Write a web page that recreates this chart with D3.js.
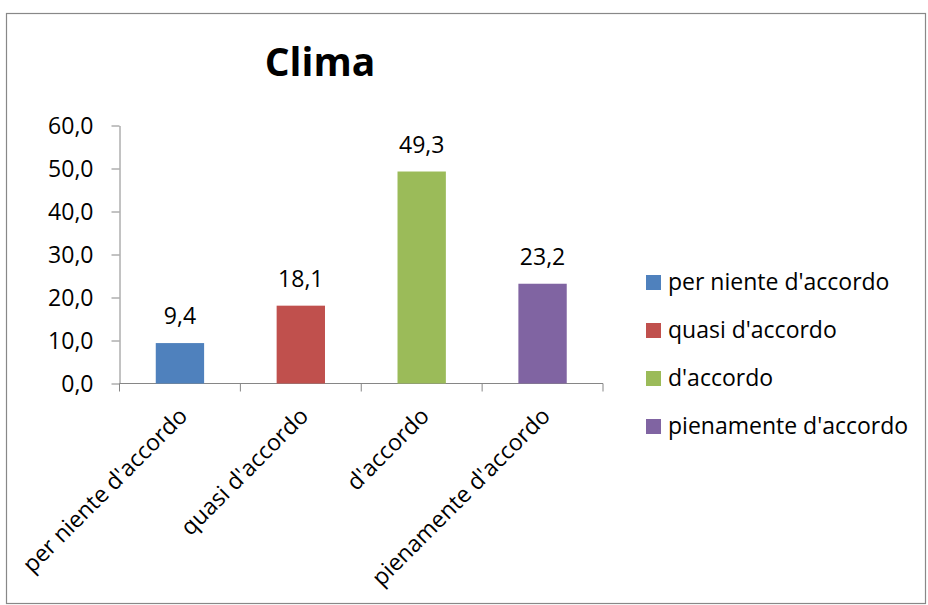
<!DOCTYPE html>
<html><head><meta charset="utf-8">
<script src="https://cdn.jsdelivr.net/npm/d3@7"></script>
<style>body{margin:0;background:#fff}</style>
</head><body>
<svg id="c" width="928" height="605"></svg>
<script>
const categories = ["per niente d'accordo","quasi d'accordo","d'accordo","pienamente d'accordo"];
const values = [9.4, 18.1, 49.3, 23.2];
const colors = ["#4F81BD","#C0504D","#9BBB59","#8064A2"];
const yTicks = [0,10,20,30,40,50,60];
const title = "Clima";

const svg = d3.select("#c");
const font = "'Open Sans', sans-serif";
const fs = 23;
const fmt = v => d3.format(".1f")(v).replace(".", ",");

svg.append("rect").attr("x",6.5).attr("y",13.5).attr("width",919).attr("height",590)
  .attr("fill","#fff").attr("stroke","#888").attr("stroke-width",1.2);

svg.append("text").attr("x",320).attr("y",76).attr("text-anchor","middle")
  .attr("font-family",font).attr("font-weight","bold").attr("font-size",39)
  .text(title);

const x = d3.scaleBand().domain(categories).range([119.5,603]).paddingInner(0.6).paddingOuter(0.3);
const xb = d3.scaleBand().domain(categories).range([119.5,603]);
const y = d3.scaleLinear().domain([0,60]).range([383.5,125.5]);

const axisColor = "#868686";
// y axis
const ya = svg.append("g").attr("transform","translate(119.5,0)")
  .call(d3.axisLeft(y).tickValues(yTicks).tickSize(8).tickSizeOuter(0).tickFormat(fmt));
ya.select(".domain").attr("stroke",axisColor);
ya.selectAll(".tick line").attr("stroke",axisColor);
ya.selectAll(".tick text").attr("font-family",font).attr("font-size",fs).attr("fill","#000")
  .attr("x",-26).attr("dy","0.36em");

// x axis
const xg = svg.append("g").attr("transform","translate(0,383.5)");
xg.append("line").attr("x1",119.5).attr("x2",603).attr("stroke",axisColor);
const bounds = categories.map(c => xb(c)).concat([xb(categories[3]) + xb.bandwidth()]);
xg.selectAll("line.t").data(bounds).join("line").attr("class","t")
  .attr("x1",d=>d).attr("x2",d=>d).attr("y1",0).attr("y2",8).attr("stroke",axisColor);
xg.selectAll("text").data(categories).join("text")
  .attr("transform",d=>`translate(${xb(d)+xb.bandwidth()/2+3},${28}) rotate(-45)`)
  .attr("text-anchor","end").attr("dy","0.36em")
  .attr("font-family",font).attr("font-size",fs).attr("fill","#000").text(d=>d);

// bars
svg.selectAll("rect.bar").data(values).join("rect").attr("class","bar")
  .attr("x",(d,i)=>x(categories[i])).attr("width",x.bandwidth())
  .attr("y",d=>y(d)).attr("height",d=>y(0)-y(d)).attr("fill",(d,i)=>colors[i]);

svg.selectAll("text.lbl").data(values).join("text").attr("class","lbl")
  .attr("x",(d,i)=>x(categories[i])+x.bandwidth()/2).attr("y",d=>y(d)-19)
  .attr("text-anchor","middle").attr("font-family",font).attr("font-size",fs).text(fmt);

// legend
const lg = svg.append("g");
categories.forEach((c,i)=>{
  lg.append("rect").attr("x",646).attr("y",275+i*48).attr("width",15).attr("height",15).attr("fill",colors[i]);
  lg.append("text").attr("x",668).attr("y",290+i*48).attr("font-family",font).attr("font-size",fs).text(c);
});
</script>
</body></html>
